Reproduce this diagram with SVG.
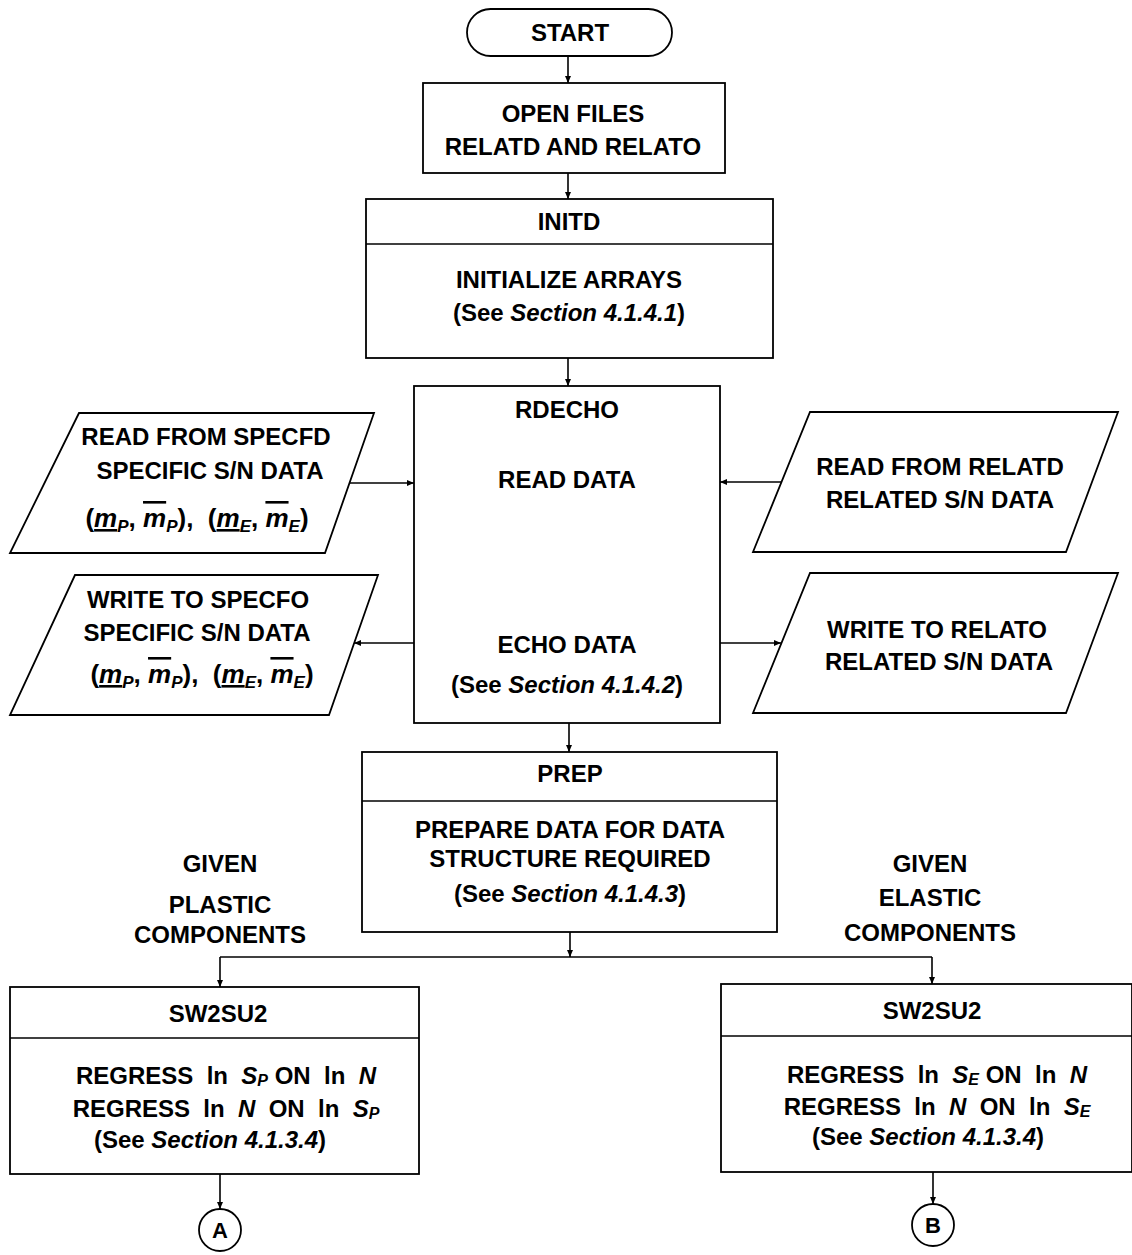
<svg xmlns="http://www.w3.org/2000/svg" width="1132" height="1255" viewBox="0 0 1132 1255">
  <defs>
    <style>
      text { font-family: "Liberation Sans", Arial, Helvetica, sans-serif; font-size: 24px; font-weight: bold; fill: #000; text-anchor: middle; }
      .it { font-style: italic; }
      .sub { font-size: 16px; font-style: italic; }
      .math { font-size: 26px; }
      .msub { font-size: 17px; font-style: italic; }
      .ul { text-decoration: underline; }
      .ol { text-decoration: overline; }
      .shape { fill: #fff; stroke: #000; stroke-width: 1.8; }
      .div { stroke: #000; stroke-width: 1.6; fill: none; }
      .conn { stroke: #000; stroke-width: 1.6; fill: none; }
    </style>
    <marker id="arrow" markerUnits="userSpaceOnUse" markerWidth="8" markerHeight="8" refX="7" refY="4" orient="auto">
      <path d="M0,1 L7,4 L0,7 z" fill="#000"/>
    </marker>
  </defs>

  <rect width="1132" height="1255" fill="#fff"/>

  <!-- connectors -->
  <g id="connectors">
    <path class="conn" d="M568,56 V83" marker-end="url(#arrow)"/>
    <path class="conn" d="M568,173 V199" marker-end="url(#arrow)"/>
    <path class="conn" d="M568,358 V386" marker-end="url(#arrow)"/>
    <path class="conn" d="M569,723 V752" marker-end="url(#arrow)"/>
    <path class="conn" d="M570,932 V957" marker-end="url(#arrow)"/>
    <path class="conn" d="M220,957 H932"/>
    <path class="conn" d="M220,957 V987" marker-end="url(#arrow)"/>
    <path class="conn" d="M932,957 V984" marker-end="url(#arrow)"/>
    <path class="conn" d="M220,1174 V1209" marker-end="url(#arrow)"/>
    <path class="conn" d="M933,1172 V1204" marker-end="url(#arrow)"/>
    <!-- file I/O links to RDECHO -->
    <path class="conn" d="M350,483 H414" marker-end="url(#arrow)"/>
    <path class="conn" d="M414,643 H354" marker-end="url(#arrow)"/>
    <path class="conn" d="M781,482 H720" marker-end="url(#arrow)"/>
    <path class="conn" d="M720,643 H781" marker-end="url(#arrow)"/>
  </g>

  <g id="start">
    <rect class="shape" x="467" y="9" width="205" height="47" rx="23.5" ry="23.5"/>
    <text x="570" y="41">START</text>
  </g>

  <g id="open-files">
    <rect class="shape" x="423" y="83" width="302" height="90"/>
    <text x="573" y="122">OPEN FILES</text>
    <text x="573" y="155">RELATD AND RELATO</text>
  </g>

  <g id="initd">
    <rect class="shape" x="366" y="199" width="407" height="159"/>
    <line class="div" x1="366" y1="244" x2="773" y2="244"/>
    <text x="569" y="230">INITD</text>
    <text x="569" y="288">INITIALIZE ARRAYS</text>
    <text x="569" y="321">(See <tspan class="it">Section 4.1.4.1</tspan>)</text>
  </g>

  <g id="rdecho">
    <rect class="shape" x="414" y="386" width="306" height="337"/>
    <text x="567" y="418">RDECHO</text>
    <text x="567" y="488">READ DATA</text>
    <text x="567" y="653">ECHO DATA</text>
    <text x="567" y="693">(See <tspan class="it">Section 4.1.4.2</tspan>)</text>
  </g>

  <g id="read-specfd">
    <polygon class="shape" points="79,413 374,413 325,553 10,553"/>
    <text x="206" y="445">READ FROM SPECFD</text>
    <text x="210" y="479">SPECIFIC S/N DATA</text>
    <text class="math" x="197" y="527" xml:space="preserve">(<tspan class="it ul">m</tspan><tspan class="msub" dy="5">P</tspan><tspan dy="-5">, </tspan><tspan class="it ol">m</tspan><tspan class="msub" dy="5">P</tspan><tspan dy="-5">),  (</tspan><tspan class="it ul">m</tspan><tspan class="msub" dy="5">E</tspan><tspan dy="-5">, </tspan><tspan class="it ol">m</tspan><tspan class="msub" dy="5">E</tspan><tspan dy="-5">)</tspan></text>
  </g>

  <g id="write-specfo">
    <polygon class="shape" points="75,575 378,575 329,715 10,715"/>
    <text x="198" y="608">WRITE TO SPECFO</text>
    <text x="197" y="641">SPECIFIC S/N DATA</text>
    <text class="math" x="202" y="683" xml:space="preserve">(<tspan class="it ul">m</tspan><tspan class="msub" dy="5">P</tspan><tspan dy="-5">, </tspan><tspan class="it ol">m</tspan><tspan class="msub" dy="5">P</tspan><tspan dy="-5">),  (</tspan><tspan class="it ul">m</tspan><tspan class="msub" dy="5">E</tspan><tspan dy="-5">, </tspan><tspan class="it ol">m</tspan><tspan class="msub" dy="5">E</tspan><tspan dy="-5">)</tspan></text>
  </g>

  <g id="read-relatd">
    <polygon class="shape" points="810,412 1118,412 1066,552 753,552"/>
    <text x="940" y="475">READ FROM RELATD</text>
    <text x="940" y="508">RELATED S/N DATA</text>
  </g>

  <g id="write-relato">
    <polygon class="shape" points="810,573 1118,573 1066,713 753,713"/>
    <text x="937" y="638">WRITE TO RELATO</text>
    <text x="939" y="670">RELATED S/N DATA</text>
  </g>

  <g id="prep">
    <rect class="shape" x="362" y="752" width="415" height="180"/>
    <line class="div" x1="362" y1="801" x2="777" y2="801"/>
    <text x="570" y="782">PREP</text>
    <text x="570" y="838">PREPARE DATA FOR DATA</text>
    <text x="570" y="867">STRUCTURE REQUIRED</text>
    <text x="570" y="902">(See <tspan class="it">Section 4.1.4.3</tspan>)</text>
  </g>

  <g id="label-plastic">
    <text x="220" y="872">GIVEN</text>
    <text x="220" y="913">PLASTIC</text>
    <text x="220" y="943">COMPONENTS</text>
  </g>

  <g id="label-elastic">
    <text x="930" y="872">GIVEN</text>
    <text x="930" y="906">ELASTIC</text>
    <text x="930" y="941">COMPONENTS</text>
  </g>

  <g id="sw2su2-plastic">
    <rect class="shape" x="10" y="987" width="409" height="187"/>
    <line class="div" x1="10" y1="1038" x2="419" y2="1038"/>
    <text x="218" y="1022">SW2SU2</text>
    <text x="226" y="1084" xml:space="preserve">REGRESS  ln  <tspan class="it">S</tspan><tspan class="sub" dy="2">P</tspan><tspan dy="-2"> ON  ln  </tspan><tspan class="it">N</tspan></text>
    <text x="226" y="1117" xml:space="preserve">REGRESS  ln  <tspan class="it">N</tspan>  ON  ln  <tspan class="it">S</tspan><tspan class="sub" dy="2">P</tspan></text>
    <text x="210" y="1148">(See <tspan class="it">Section 4.1.3.4</tspan>)</text>
  </g>

  <g id="sw2su2-elastic">
    <rect class="shape" x="721" y="984" width="411" height="188"/>
    <line class="div" x1="721" y1="1036" x2="1132" y2="1036"/>
    <text x="932" y="1019">SW2SU2</text>
    <text x="937" y="1083" xml:space="preserve">REGRESS  ln  <tspan class="it">S</tspan><tspan class="sub" dy="2">E</tspan><tspan dy="-2"> ON  ln  </tspan><tspan class="it">N</tspan></text>
    <text x="937" y="1115" xml:space="preserve">REGRESS  ln  <tspan class="it">N</tspan>  ON  ln  <tspan class="it">S</tspan><tspan class="sub" dy="2">E</tspan></text>
    <text x="928" y="1145">(See <tspan class="it">Section 4.1.3.4</tspan>)</text>
  </g>

  <g id="connector-a">
    <circle class="shape" cx="220" cy="1230" r="21"/>
    <text x="220" y="1238" style="font-size:22px">A</text>
  </g>

  <g id="connector-b">
    <circle class="shape" cx="933" cy="1225" r="21"/>
    <text x="933" y="1233" style="font-size:22px">B</text>
  </g>
</svg>
